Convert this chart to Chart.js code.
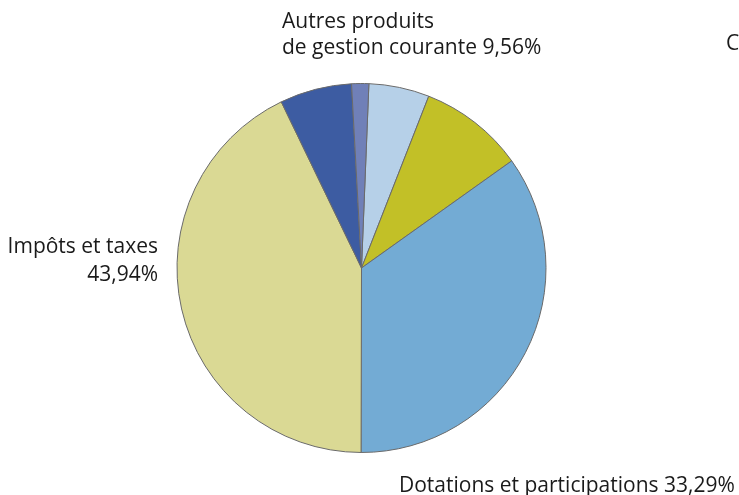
<!DOCTYPE html>
<html>
<head>
<meta charset="utf-8">
<script src="https://cdn.jsdelivr.net/npm/chart.js@4"></script>
<style>
  html, body { margin: 0; padding: 0; background: #fff; }
  canvas { display: block; }
</style>
</head>
<body>
<canvas id="pieChart" width="739" height="495"></canvas>
<script>
// slices, clockwise from just right of the top
const categories = [
    "Produits des services",
    "Autres produits de gestion courante",
    "Dotations et participations",
    "Impôts et taxes",
    "Atténuations de charges",
    "Produits exceptionnels",
];
const shares = [5.3, 9.2, 34.9, 42.8, 6.3, 1.5];
const sliceColors = ["#b6d0e8", "#c2c027", "#73abd4", "#dad994", "#3d5ca2", "#7080b8"];

// printed labels (text lines per slice, null = no label)
const labelLines = [
    null,
    ["Autres produits", "de gestion courante 9,56%"],
    ["Dotations et participations 33,29%"],
    ["Impôts et taxes", "43,94%"],
    null,
    null,
];

const labelsPlugin = {
    id: "sliceLabels",
    afterDraw(chart) {
        const ctx = chart.ctx;
        ctx.save();
        ctx.fillStyle = "#1a1a1a";
        ctx.font = "21px 'Open Sans', sans-serif";
        ctx.textBaseline = "alphabetic";

        ctx.textAlign = "left";
        ctx.fillText(labelLines[1][0], 282, 28);
        ctx.fillText(labelLines[1][1], 282, 54);

        ctx.fillText(labelLines[2][0], 399, 492);

        ctx.textAlign = "right";
        ctx.fillText(labelLines[3][0], 158, 253);
        ctx.fillText(labelLines[3][1], 158, 281);

        // cut-off title of the neighbouring chart
        ctx.textAlign = "left";
        ctx.fillText("C", 726, 50);
        ctx.restore();
    },
};

document.addEventListener("DOMContentLoaded", () => {
    const ctx = document.getElementById("pieChart").getContext("2d");
    new Chart(ctx, {
        type: "pie",
        data: {
            labels: categories,
            datasets: [
                {
                    data: shares,
                    backgroundColor: sliceColors,
                    borderColor: "#6a6a6a",
                    borderWidth: 1,
                    hoverOffset: 0,
                },
            ],
        },
        options: {
            responsive: false,
            devicePixelRatio: 1,
            animation: false,
            rotation: 2.3,
            layout: {
                padding: { left: 176, right: 192, top: 83, bottom: 42 },
            },
            plugins: {
                legend: { display: false },
                tooltip: { enabled: false },
            },
        },
        plugins: [labelsPlugin],
    });
});
</script>
</body>
</html>
